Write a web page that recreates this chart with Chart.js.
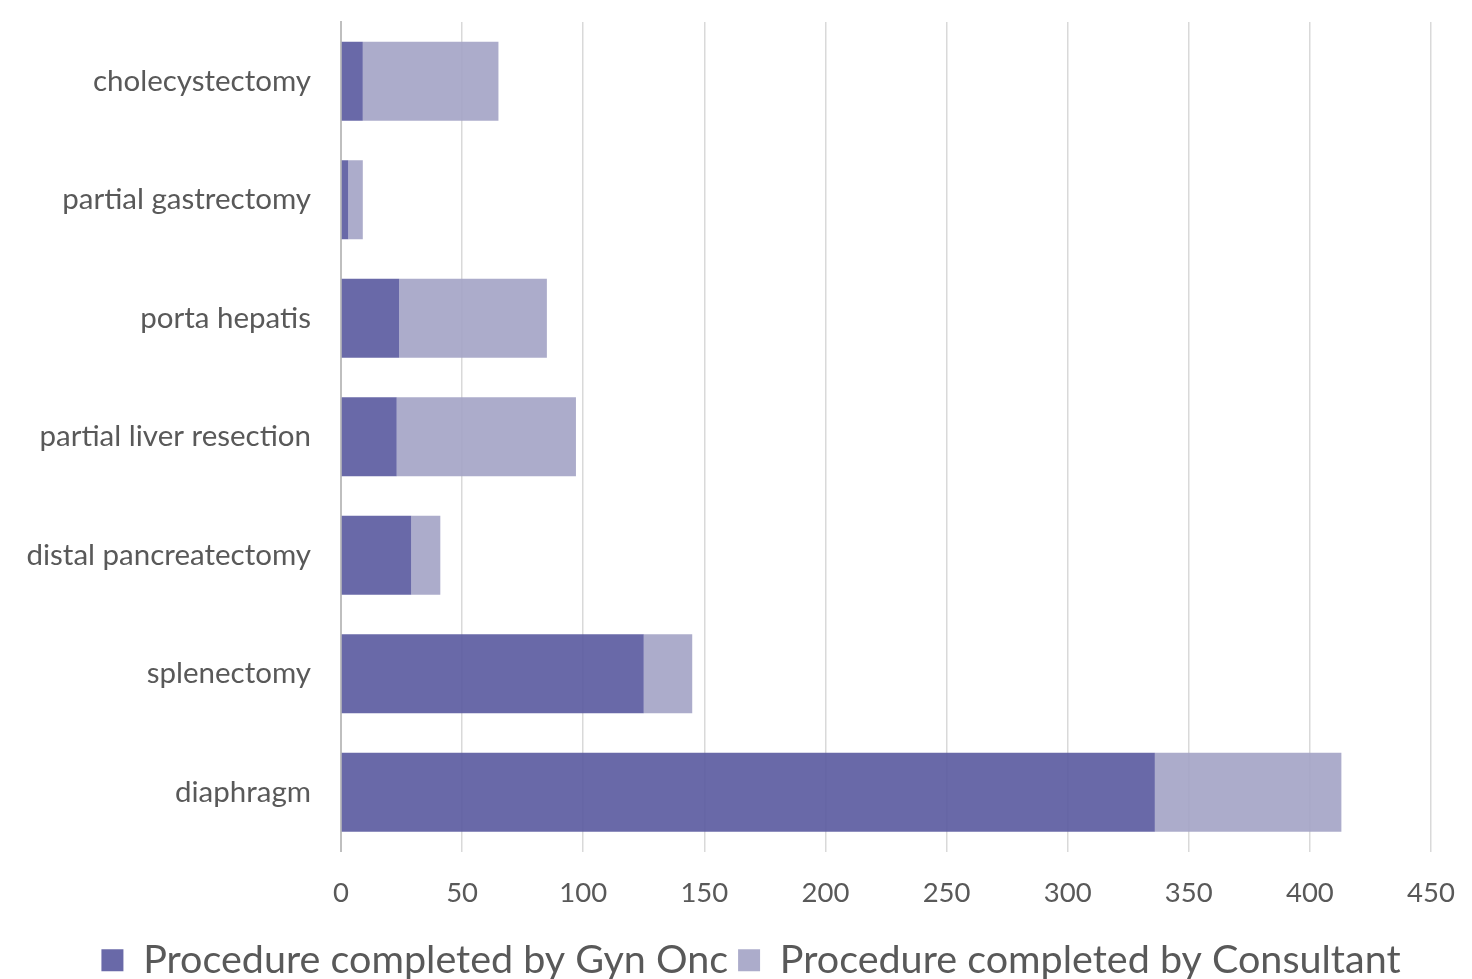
<!DOCTYPE html>
<html>
<head>
<meta charset="utf-8">
<script src="https://cdn.jsdelivr.net/npm/chart.js@4.4.1/dist/chart.umd.min.js"></script>
<style>
html,body{margin:0;padding:0;background:#fff;overflow:hidden;}
#wrap{width:1472px;height:1000px;position:relative;}
</style>
</head>
<body>
<div id="wrap"><canvas id="c"></canvas></div>
<script>
const categories = ["cholecystectomy","partial gastrectomy","porta hepatis","partial liver resection","distal pancreatectomy","splenectomy","diaphragm"];
const gynOnc = [9, 3, 24, 23, 29, 125, 336];
const consultant = [56, 6, 61, 74, 12, 20, 77];
const seriesNames = ["Procedure completed by Gyn Onc","Procedure completed by Consultant"];
const xMin = 0, xMax = 450, xStep = 50;

const FONT = "Lato, 'Open Sans', sans-serif";
const TXT = "#595959";
const PAD_R = 41;
const LEGEND_SHIFT = 71;

const legendShift = {
  id: 'legendShift',
  afterLayout(chart) {
    if (chart.legend) { chart.legend.left += LEGEND_SHIFT; }
  }
};

new Chart(document.getElementById('c'), {
  type: 'bar',
  data: {
    labels: categories,
    datasets: [
      {label: seriesNames[0], data: gynOnc, backgroundColor: 'rgba(89,89,158,0.9)', borderWidth: 0},
      {label: seriesNames[1], data: consultant, backgroundColor: 'rgba(163,163,197,0.9)', borderWidth: 0}
    ]
  },
  plugins: [legendShift],
  options: {
    indexAxis: 'y',
    responsive: true,
    maintainAspectRatio: false,
    animation: false,
    categoryPercentage: 0.665,
    barPercentage: 1.0,
    layout: {padding: {top: 22, right: PAD_R, left: 0, bottom: 10}},
    plugins: {
      tooltip: {enabled: false},
      legend: {
        position: 'bottom',
        labels: {
          font: {family: FONT, size: 39.5},
          color: TXT,
          boxWidth: 22, boxHeight: 22,
          padding: 10
        }
      }
    },
    scales: {
      x: {
        stacked: true,
        min: xMin, max: xMax,
        ticks: {stepSize: xStep, font: {family: FONT, size: 27.5}, color: TXT, padding: 0},
        grid: {color: '#d9d9d9', lineWidth: 1.5, drawTicks: true, tickLength: 25, tickColor: 'rgba(0,0,0,0)'},
        border: {display: false},
        afterFit: (s) => { s.height = 79; }
      },
      y: {
        stacked: true,
        ticks: {font: {family: FONT, size: 29.5}, color: TXT, padding: 0},
        grid: {display: true, color: 'rgba(0,0,0,0)', drawOnChartArea: false, drawTicks: true, tickLength: 30, tickColor: 'rgba(0,0,0,0)'},
        border: {display: true, color: '#bfbfbf', width: 2},
        afterFit: (s) => { s.width = 341; }
      }
    }
  }
});
</script>
</body>
</html>
